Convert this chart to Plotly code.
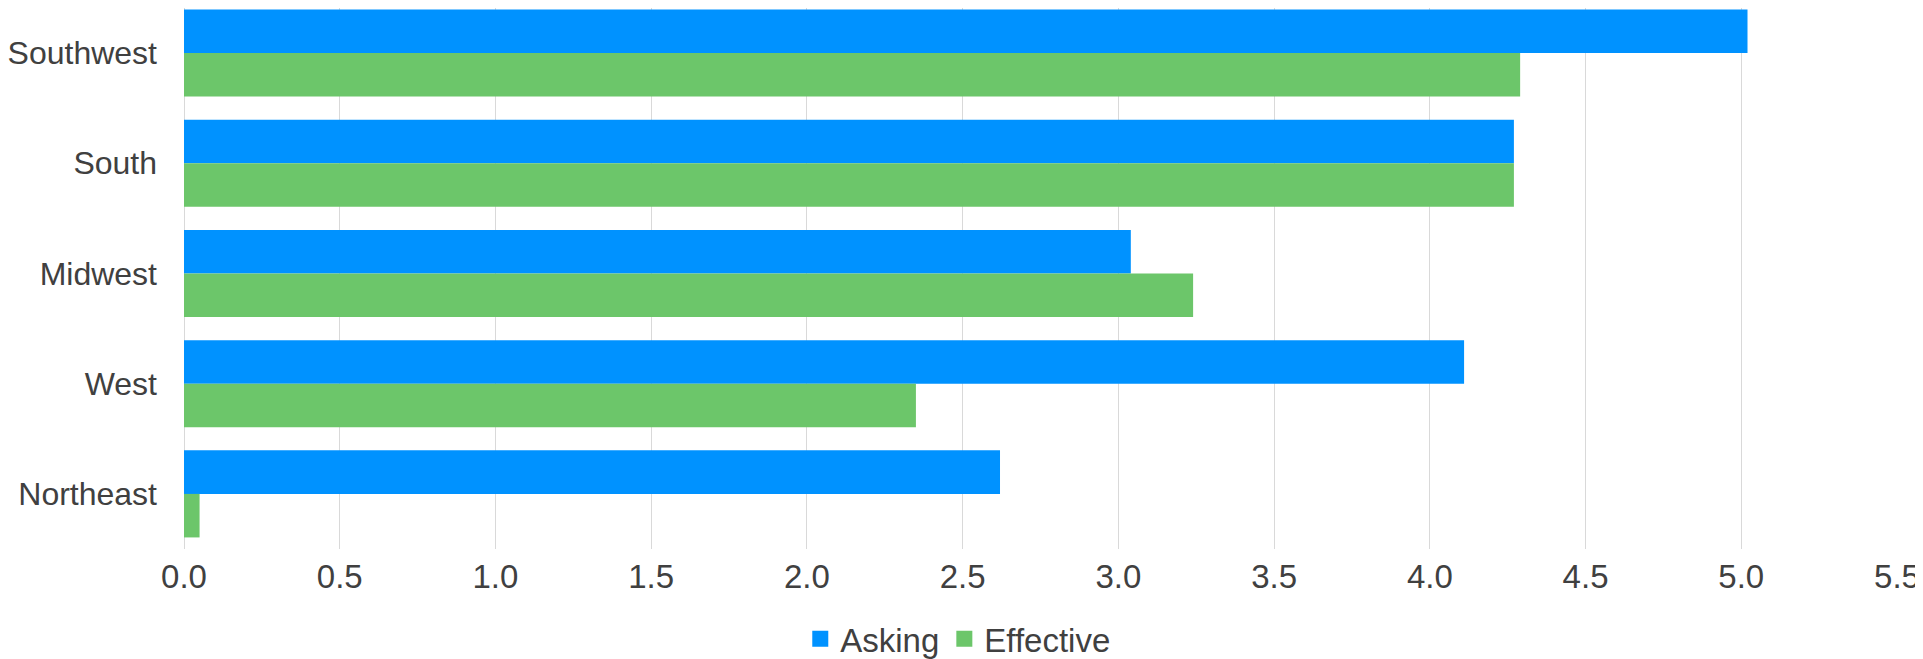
import plotly.graph_objects as go

categories = ["Southwest", "South", "Midwest", "West", "Northeast"]
asking = [5.02, 4.27, 3.04, 4.11, 2.62]
effective = [4.29, 4.27, 3.24, 2.35, 0.05]
x_ticks = [0.0, 0.5, 1.0, 1.5, 2.0, 2.5, 3.0, 3.5, 4.0, 4.5, 5.0, 5.5]
x_tick_labels = [f"{v:.1f}" for v in x_ticks]

BLUE = "#0092FF"
GREEN = "#6CC66A"
TEXT = "#404040"
FONT = "Liberation Sans, Arial, sans-serif"

fig = go.Figure()
fig.add_trace(go.Bar(name="Asking", y=categories, x=asking, orientation="h",
                     marker=dict(color=BLUE, line=dict(width=0)), showlegend=False))
fig.add_trace(go.Bar(name="Effective", y=categories, x=effective, orientation="h",
                     marker=dict(color=GREEN, line=dict(width=0)), showlegend=False))
# legend entries
for name, col in [("Asking", BLUE), ("Effective", GREEN)]:
    fig.add_trace(go.Scatter(x=[None], y=[None], mode="markers", name=name,
                             marker=dict(symbol="square", size=17, color=col)))

# the page body adds an 8px margin; the figure is sized to fit the window
fig.update_layout(
    width=1915, height=651,
    margin=dict(l=176, r=26, t=0, b=110, autoexpand=False),
    barmode="group", bargap=0.21, bargroupgap=0,
    plot_bgcolor="white", paper_bgcolor="white",
    font=dict(family=FONT, size=33, color=TEXT),
    showlegend=True,
    legend=dict(orientation="h", xref="paper", yref="paper",
                x=0.452, xanchor="center", y=-0.166, yanchor="middle",
                font=dict(size=33, color=TEXT), itemwidth=30,
                tracegroupgap=0),
    xaxis=dict(range=[0, 5.5], tickvals=x_ticks, ticktext=x_tick_labels,
               automargin=False,
               showgrid=True, gridcolor="#D9D9D9", gridwidth=1,
               zeroline=True, zerolinecolor="#D9D9D9", zerolinewidth=1,
               showline=False, ticks="", ticklabelstandoff=5,
               tickfont=dict(size=33, color=TEXT)),
    yaxis=dict(categoryorder="array", categoryarray=categories,
               range=[4.5, -0.409], automargin=False,
               showgrid=False, zeroline=False,
               showline=False, ticks="", ticklabelstandoff=26,
               tickfont=dict(size=32, color=TEXT)),
)

fig.write_html("out.html")
